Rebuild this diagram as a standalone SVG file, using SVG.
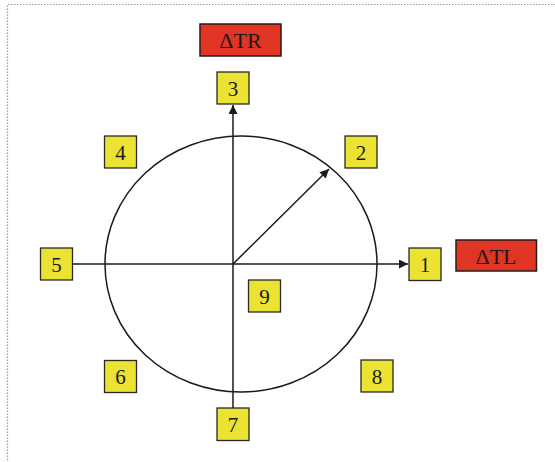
<svg xmlns="http://www.w3.org/2000/svg" width="555" height="462" viewBox="0 0 555 462">
<style>
.box{fill:#ebe234;stroke:#2a2a20;stroke-width:1.3}
.red{fill:#e03424;stroke:#2a1a18;stroke-width:1.5}
.t{font-family:"Liberation Serif","Times New Roman","DejaVu Serif",serif;font-size:21px;fill:#1a1a1a;text-anchor:middle}
.lab{font-size:22px}
.line{stroke:#1a1a1a;stroke-width:1.5;fill:none}
</style>
<defs>
<marker id="arr" viewBox="0 0 10 10" refX="10" refY="5" markerWidth="11" markerHeight="9" markerUnits="userSpaceOnUse" orient="auto">
<path d="M0,0 L10,5 L0,10 z" fill="#1a1a1a"/>
</marker>
</defs>
<rect width="555" height="462" fill="#fff"/>
<path d="M7.5,463 V4.5 H556" fill="none" stroke="#9a9a9a" stroke-width="1.2" stroke-dasharray="1.5,1.5"/>
<g id="connectors">
<ellipse cx="241" cy="264" rx="136" ry="128" class="line" stroke-width="1.3"/>
<line x1="73" y1="264" x2="408" y2="264" class="line" marker-end="url(#arr)"/>
<line x1="233" y1="408" x2="233" y2="105" class="line" marker-end="url(#arr)"/>
<line x1="233" y1="264" x2="329" y2="169" class="line" marker-end="url(#arr)"/>
</g>
<g id="dTR"><rect class="red" x="200" y="24" width="81" height="32"/><text class="t lab" x="240.5" y="48">ΔTR</text></g>
<g id="dTL"><rect class="red" x="456" y="240" width="80.5" height="31"/><text class="t lab" x="496" y="263.5">ΔTL</text></g>
<g id="n3"><rect class="box" x="217" y="72" width="32" height="32"/><text class="t" x="233" y="95.5">3</text></g>
<g id="n2"><rect class="box" x="345" y="136" width="32" height="32"/><text class="t" x="361" y="159.5">2</text></g>
<g id="n1"><rect class="box" x="409" y="248" width="32" height="32.5"/><text class="t" x="425" y="271.5">1</text></g>
<g id="n4"><rect class="box" x="104.5" y="136" width="32" height="32"/><text class="t" x="120.5" y="159.5">4</text></g>
<g id="n5"><rect class="box" x="40.5" y="248" width="32" height="32"/><text class="t" x="56.5" y="271.5">5</text></g>
<g id="n6"><rect class="box" x="104.5" y="360.5" width="32" height="32"/><text class="t" x="120.5" y="384">6</text></g>
<g id="n7"><rect class="box" x="217" y="408" width="32" height="32.5"/><text class="t" x="233" y="431.5">7</text></g>
<g id="n8"><rect class="box" x="361" y="360" width="32" height="32"/><text class="t" x="377" y="383.5">8</text></g>
<g id="n9"><rect class="box" x="248.5" y="280" width="32" height="32"/><text class="t" x="264.5" y="303.5">9</text></g>
</svg>
